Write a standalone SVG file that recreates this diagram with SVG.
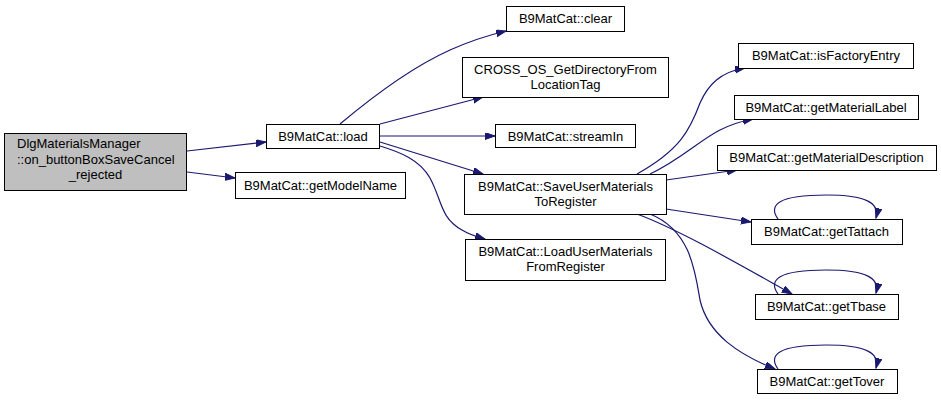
<svg xmlns="http://www.w3.org/2000/svg" width="941" height="400" viewBox="0 0 941 400">
<defs>
<marker id="ah" markerWidth="11" markerHeight="8" refX="10" refY="3.5" orient="auto" markerUnits="userSpaceOnUse">
<path d="M0,0 L10,3.5 L0,7 z" fill="#191970" stroke="#191970" stroke-width="1"/>
</marker>
<style>
.n rect{fill:#ffffff;stroke:#000000;stroke-width:1}
.n text{font-family:"Liberation Sans",Arial,sans-serif;font-size:13px;fill:#000000;text-anchor:middle}
#edges path{fill:none;stroke:#191970;stroke-width:1.2;marker-end:url(#ah)}
</style>
</defs>
<rect width="941" height="400" fill="#ffffff"/>
<g id="edges">
<path d="M187,151 L266,142"/>
<path d="M187,172 L235,178"/>
<path d="M340,124 C365,103 410,68 450,50 C468,42 485,36 506,31"/>
<path d="M380,124 L483,97"/>
<path d="M380,136 L495,136"/>
<path d="M380,142 L483,174"/>
<path d="M380,146 C400,152 420,160 430,178 C442,200 440,218 462,230 C470,235 478,237 485,239"/>
<path d="M637,174 C680,150 690,130 700,103 C708,85 720,72 745,68"/>
<path d="M650,174 C680,160 700,140 720,130 C730,125 742,121 753,119"/>
<path d="M666,180 L737,170"/>
<path d="M666,209 L751,222"/>
<path d="M637,214 C680,230 740,265 792,294"/>
<path d="M650,214 C690,230 695,270 700,300 C708,335 740,355 775,369"/>
<path d="M778,219 C768,205 778,195 826,195 C866,195 880,203 876,218"/>
<path d="M778,294 C768,280 778,270 826,270 C866,270 880,278 876,293"/>
<path d="M778,369 C768,355 778,345 826,345 C866,345 880,353 876,368"/>
</g>
<g id="node_dlg" class="n">
<rect x="4.5" y="133.5" width="182" height="57" style="fill:#bfbfbf"/>
<text x="17" y="148" style="text-anchor:start">DlgMaterialsManager</text>
<text x="17" y="164" style="text-anchor:start">::on_buttonBoxSaveCancel</text>
<text x="95.5" y="179">_rejected</text>
</g>
<g id="node_load" class="n">
<rect x="266.5" y="124.5" width="113" height="24"/>
<text x="323" y="141">B9MatCat::load</text>
</g>
<g id="node_getModelName" class="n">
<rect x="235.5" y="172.5" width="170" height="26"/>
<text x="320.5" y="190">B9MatCat::getModelName</text>
</g>
<g id="node_clear" class="n">
<rect x="506.5" y="6.5" width="118" height="25"/>
<text x="565.5" y="23">B9MatCat::clear</text>
</g>
<g id="node_cross" class="n">
<rect x="462.5" y="57.5" width="206" height="40"/>
<text x="565.5" y="74">CROSS_OS_GetDirectoryFrom</text>
<text x="565.5" y="89">LocationTag</text>
</g>
<g id="node_streamIn" class="n">
<rect x="495.5" y="124.5" width="140" height="23"/>
<text x="565.5" y="141">B9MatCat::streamIn</text>
</g>
<g id="node_save" class="n">
<rect x="464.5" y="174.5" width="202" height="40"/>
<text x="565.5" y="191">B9MatCat::SaveUserMaterials</text>
<text x="565.5" y="206">ToRegister</text>
</g>
<g id="node_loadUser" class="n">
<rect x="465.5" y="239.5" width="200" height="41"/>
<text x="565.5" y="256">B9MatCat::LoadUserMaterials</text>
<text x="565.5" y="271">FromRegister</text>
</g>
<g id="node_isFactoryEntry" class="n">
<rect x="738.5" y="43.5" width="175" height="25"/>
<text x="826" y="60">B9MatCat::isFactoryEntry</text>
</g>
<g id="node_getMaterialLabel" class="n">
<rect x="734.5" y="95.5" width="184" height="24"/>
<text x="826" y="112">B9MatCat::getMaterialLabel</text>
</g>
<g id="node_getMaterialDescription" class="n">
<rect x="717.5" y="145.5" width="219" height="25"/>
<text x="826.5" y="162">B9MatCat::getMaterialDescription</text>
</g>
<g id="node_getTattach" class="n">
<rect x="751.5" y="219.5" width="151" height="25"/>
<text x="826.5" y="236">B9MatCat::getTattach</text>
</g>
<g id="node_getTbase" class="n">
<rect x="755.5" y="294.5" width="143" height="25"/>
<text x="826.5" y="311">B9MatCat::getTbase</text>
</g>
<g id="node_getTover" class="n">
<rect x="757.5" y="369.5" width="140" height="24"/>
<text x="827" y="386">B9MatCat::getTover</text>
</g>
</svg>
